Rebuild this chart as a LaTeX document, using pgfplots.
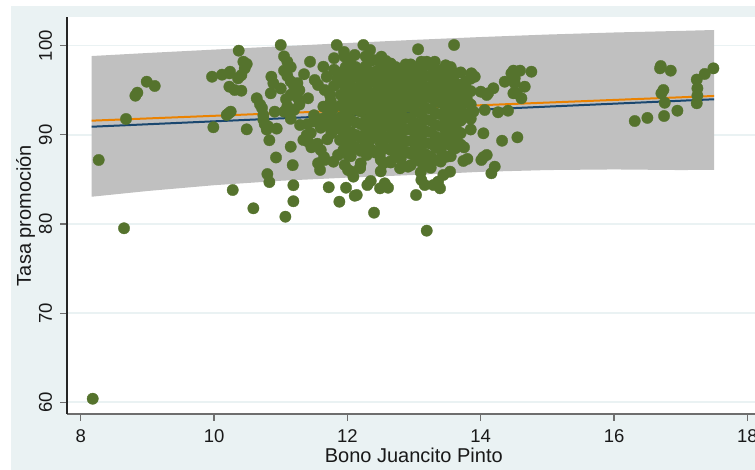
\documentclass[border=0pt]{standalone}
\usepackage{fontspec}
\setmainfont{Liberation Sans}
\usepackage{pgfplots}
\pgfplotsset{compat=1.18}
\definecolor{bgblue}{RGB}{234,242,243}
\definecolor{bandgray}{RGB}{192,192,192}
\definecolor{ptgreen}{RGB}{85,115,45}
\definecolor{fitnavy}{RGB}{26,71,111}
\definecolor{fitorange}{RGB}{235,130,0}
\definecolor{axgray}{RGB}{110,110,110}
\begin{document}
\begin{tikzpicture}
\fill[white] (0pt,0pt) rectangle (755pt,470pt);
\fill[bgblue] (11pt,0pt) rectangle (770pt,464pt);
\begin{axis}[
  at={(67pt,56pt)}, anchor=south west,
  scale only axis, width=693.6pt, height=397pt,
  xmin=7.7945, xmax=18.198, ymin=58.688, ymax=103.219,
  axis x line*=bottom, axis y line*=left,
  x axis line style={draw=axgray, line width=1.6pt},
  y axis line style={draw=black!85, line width=1.2pt},
  xtick={8,10,12,14,16,18}, ytick={60,70,80,90,100},
  tick align=outside, major tick length=7pt,
  xtick style={draw=axgray, line width=1.2pt},
  ytick style={draw=axgray, line width=1.2pt},
  ymajorgrids, grid style={draw=bgblue, line width=1.6pt},
  axis background/.style={fill=white},
  tick label style={font=\fontsize{18.5}{22}\selectfont, text=black!90},
  /pgf/number format/assume math mode=true,
  yticklabel style={rotate=90, anchor=south, inner sep=0pt, outer sep=0pt, outer ysep=8pt},
  xticklabel style={anchor=north, inner sep=0pt, outer sep=0pt, outer ysep=9pt},
]
% prediction band
\addplot[fill=bandgray, draw=none] coordinates {
(8.165,98.84) (9,99.18) (10,99.56) (11,99.93) (12,100.3) (13,100.65) (14,100.97) (15,101.25) (16,101.48) (17,101.66) (17.5,101.76)
(17.5,86.08) (17,86.05) (16,86.12) (15,86.05) (14,85.85) (13,85.5) (12,85.2) (11,84.85) (10,84.35) (9,83.7) (8.165,83.06)
};
% observations
\addplot[only marks, mark=*, mark size=5.7pt, mark options={fill=ptgreen, draw=ptgreen, line width=0.3pt}] coordinates {
(8.18,60.4) (8.27,87.18) (8.65,79.52) (8.68,91.78) (8.82,94.39) (8.85,94.73) (8.99,95.96) (9.11,95.48)
(9.97,96.52) (9.99,90.85) (10.12,96.75) (10.23,95.4) (10.24,97.08) (10.22,92.42) (10.19,92.23) (10.25,92.6)
(10.37,99.44) (10.36,96.34) (10.31,95.03) (10.41,94.95) (10.44,98.2) (10.49,97.95) (10.46,97.46) (10.41,96.7)
(10.23,96.9) (10.49,90.62) (10.28,83.81) (10.59,81.76) (10.64,94.1) (10.69,93.4) (10.72,93.0) (10.74,92.2)
(10.74,91.7) (10.76,91.2) (10.79,90.6) (10.81,90.95) (10.8,85.6) (10.83,84.7) (10.83,89.4) (10.93,87.46)
(10.94,90.7) (10.86,96.52) (10.89,95.78) (10.85,94.66) (10.91,92.6) (11.0,100.08) (11.07,80.82) (11.19,84.35)
(11.19,82.55) (11.18,86.6) (11.15,88.67)
(11.05,98.8) (11.1,98.2) (11.15,97.6) (11.05,97.2) (11.1,96.6) (11.15,96.0) (11.2,95.5) (11.25,95.8)
(11.28,95.0) (11.15,94.5) (11.25,94.2) (11.28,93.4) (11.2,92.8) (11.1,93.2) (11.05,92.6) (11.15,91.8)
(11.08,94.0) (11.0,95.2)
(11.29,91.1) (11.39,89.98) (11.46,88.6) (11.34,89.42) (11.41,89.23) (11.44,98.2) (11.41,94.1)
(11.51,96.15) (11.64,97.64) (11.69,96.52) (11.56,95.59) (11.66,95.03) (11.74,94.47)
(11.64,93.16) (11.71,92.6) (11.76,92.04) (11.81,91.1) (11.89,91.48) (11.76,90.17) (11.89,89.42) (11.94,88.3)
(11.86,87.74) (11.99,88.67) (12.01,89.42) (12.09,89.79)
(11.84,100.08) (12.24,100.08) (11.96,98.77) (12.11,98.96) (12.34,99.52) (12.39,98.4) (12.51,98.77)
(13.06,99.6) (13.6,100.08) (13.11,98.2) (13.19,98.2) (13.31,98.2)
(13.86,96.9) (13.91,96.52) (13.77,95.59) (13.72,94.66) (13.79,94.1) (13.84,92.42)
(14.0,94.84) (14.09,94.47) (14.11,94.66) (14.19,95.22) (13.89,92.6) (14.06,92.79) (14.26,92.53) (14.41,92.71)
(14.04,90.17) (14.32,89.34) (14.55,89.72) (14.04,87.5) (14.01,87.18) (14.09,87.74) (14.21,86.43) (14.16,85.69)
(14.49,97.2) (14.59,97.2) (14.76,97.08) (14.36,95.96) (14.51,95.78) (14.66,95.4) (14.49,94.66) (14.54,94.66)
(14.61,94.1) (14.46,96.9) (14.51,96.34)
(16.31,91.55) (16.5,91.9) (16.69,97.46) (16.7,97.72) (16.85,97.2) (16.74,95.03) (16.71,94.66) (16.76,93.6)
(16.75,92.11) (16.95,92.71) (17.24,96.2) (17.25,95.22) (17.25,94.4) (17.24,93.54) (17.36,96.83) (17.49,97.46)
(11.56,86.81) (11.59,86.06) (11.66,87.18) (11.79,86.99) (11.72,84.12) (11.88,82.5) (11.98,84.07) (12.11,83.17)
(11.94,89.61) (12.01,87.74) (11.96,86.62) (12.06,85.87) (12.09,85.31) (12.19,86.36) (12.14,83.25) (12.3,84.37)
(12.35,84.82) (12.49,84.0) (12.56,84.56) (12.61,84.07) (12.4,81.27) (13.03,83.25) (13.19,79.25)
(13.11,84.94) (13.16,84.37) (13.29,84.37) (13.36,84.74) (13.44,85.5) (13.54,85.87) (13.39,84.0) (13.74,87.07)
(12.01,86.06) (12.19,86.25) (12.54,86.81) (12.64,86.99) (12.79,86.25) (12.94,87.93) (13.02,88.11) (13.22,87.55)
(13.31,87.18) (13.41,87.37) (13.49,87.55) (13.62,88.49) (13.64,89.42) (12.29,87.74) (12.49,87.93) (12.84,87.93)
(12.91,86.43) (13.75,88.6) (13.8,87.3)
(11.35,96.8) (11.5,92.2) (11.4,91.2) (11.6,90.8) (11.7,89.5) (11.75,93.8) (11.8,95.5) (11.8,97.3)
(11.7,91.0) (11.55,89.0) (11.45,90.2) (11.6,88.3) (11.65,87.5)
(11.8,98.6) (11.95,99.3) (11.5,91.5) (11.62,91.8) (11.85,96.4) (11.78,92.9)
(11.9,97.0) (11.9,95.8) (11.9,94.5) (11.9,93.3) (11.9,92.0) (11.9,90.6)
(12.05,98.0) (12.05,96.8) (12.05,95.5) (12.05,94.2) (12.05,93.0) (12.05,91.7) (12.05,90.3) (12.05,88.9) (12.05,87.6)
(12.2,97.3) (12.2,96.2) (12.2,95.0) (12.2,93.8) (12.2,92.6) (12.2,91.2) (12.2,89.7) (12.2,88.2) (12.2,86.8)
(12.35,98.3) (12.35,97.0) (12.35,95.9) (12.35,94.6) (12.35,93.4) (12.35,92.1) (12.35,90.9) (12.35,89.5) (12.35,88.4)
(12.5,97.6) (12.5,96.4) (12.5,95.2) (12.5,94.0) (12.5,92.8) (12.5,91.6) (12.5,90.2) (12.5,89.0) (12.5,87.2) (12.5,85.9)
(12.65,98.0) (12.65,96.9) (12.65,95.7) (12.65,94.5) (12.65,93.3) (12.65,92.0) (12.65,90.8) (12.65,89.6) (12.65,88.3) (12.65,86.9)
(12.8,97.4) (12.8,96.2) (12.8,95.0) (12.8,93.8) (12.8,92.5) (12.8,91.3) (12.8,90.0) (12.8,88.7) (12.8,87.3)
(12.95,97.9) (12.95,96.7) (12.95,95.5) (12.95,94.3) (12.95,93.1) (12.95,91.8) (12.95,90.6) (12.95,89.3) (12.95,88.0) (12.95,86.6)
(13.1,97.3) (13.1,96.1) (13.1,94.9) (13.1,93.7) (13.1,92.4) (13.1,91.1) (13.1,89.8) (13.1,88.5) (13.1,87.0) (13.1,85.8)
(13.25,97.8) (13.25,96.6) (13.25,95.4) (13.25,94.2) (13.25,92.9) (13.25,91.6) (13.25,90.3) (13.25,89.0) (13.25,87.6) (13.25,86.3)
(13.4,97.2) (13.4,96.0) (13.4,94.8) (13.4,93.6) (13.4,92.3) (13.4,91.0) (13.4,89.6) (13.4,88.3) (13.4,87.0)
(13.55,97.6) (13.55,96.4) (13.55,95.2) (13.55,94.0) (13.55,92.7) (13.55,91.4) (13.55,90.0) (13.55,88.8) (13.55,87.6)
(13.7,97.0) (13.7,95.6) (13.7,94.3) (13.7,93.0) (13.7,91.6) (13.7,90.2) (13.7,88.9)
(13.85,96.3) (13.85,94.9) (13.85,93.4) (13.85,91.8) (13.85,90.6)
(11.975,97.6) (11.975,96.4) (11.975,95.1) (11.975,93.9) (11.975,92.6) (11.975,91.2) (11.975,89.9)
(12.125,97.6) (12.125,96.5) (12.125,95.2) (12.125,94.0) (12.125,92.8) (12.125,91.4) (12.125,90.0) (12.125,88.6)
(12.275,98.8) (12.275,97.7) (12.275,96.6) (12.275,95.4) (12.275,94.1) (12.275,92.9) (12.275,91.6) (12.275,90.3) (12.275,89.0)
(12.425,97.1) (12.425,96.0) (12.425,94.8) (12.425,93.6) (12.425,92.4) (12.425,91.2) (12.425,89.9) (12.425,88.0)
(12.575,98.3) (12.575,97.1) (12.575,95.9) (12.575,94.7) (12.575,93.5) (12.575,92.3) (12.575,91.0) (12.575,89.7) (12.575,88.5)
(12.725,97.6) (12.725,96.4) (12.725,95.2) (12.725,94.0) (12.725,92.8) (12.725,91.5) (12.725,90.3) (12.725,89.1) (12.725,87.8)
(12.875,97.9) (12.875,96.8) (12.875,95.6) (12.875,94.4) (12.875,93.2) (12.875,91.9) (12.875,90.6) (12.875,89.3) (12.875,88.1)
(13.025,97.4) (13.025,96.2) (13.025,95.0) (13.025,93.8) (13.025,92.6) (13.025,91.3) (13.025,90.1) (13.025,88.8) (13.025,87.5)
(13.175,97.8) (13.175,96.6) (13.175,95.4) (13.175,94.2) (13.175,93.0) (13.175,91.7) (13.175,90.4) (13.175,89.1) (13.175,87.8) (13.175,86.6)
(13.325,97.3) (13.325,96.1) (13.325,94.9) (13.325,93.7) (13.325,92.4) (13.325,91.1) (13.325,89.8) (13.325,88.6)
(13.475,97.8) (13.475,96.6) (13.475,95.4) (13.475,94.2) (13.475,93.0) (13.475,91.7) (13.475,90.4) (13.475,89.1)
(13.625,96.9) (13.625,95.8) (13.625,94.6) (13.625,93.4) (13.625,92.2) (13.625,90.8)
(13.775,96.0) (13.775,93.7) (13.775,92.2)
};
% linear fits
\addplot[draw=fitnavy, line width=2pt] coordinates {(8.165,90.91) (17.5,93.99)};
\addplot[draw=fitorange, line width=2pt] coordinates {(8.165,91.59) (17.5,94.36)};
\end{axis}
\node[anchor=base, font=\fontsize{20}{24}\selectfont, text=black!90] at (413.8pt,7pt) {Bono Juancito Pinto};
\node[rotate=90, anchor=base, font=\fontsize{20}{24}\selectfont, text=black!90] at (31pt,254.5pt) {Tasa promoción};
\pgfresetboundingbox
\useasboundingbox (0pt,0pt) rectangle (755pt,470pt);
\end{tikzpicture}
\end{document}
